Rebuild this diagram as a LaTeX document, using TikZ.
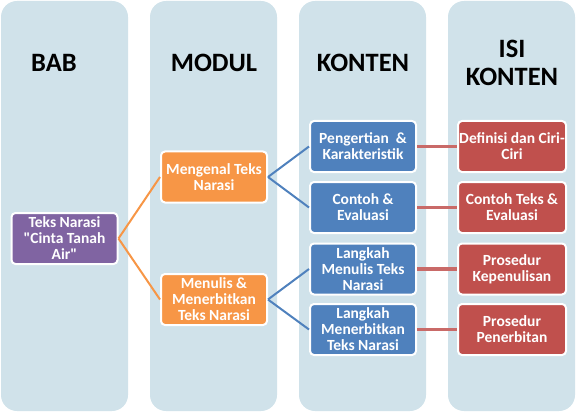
\documentclass[tikz,border=0pt]{standalone}
\usepackage{fontspec}
\setmainfont{Carlito}[Ligatures=TeXOff]
\definecolor{colbg}{HTML}{D0E2EA}
\definecolor{cpurple}{HTML}{8064A2}
\definecolor{corange}{HTML}{F79646}
\definecolor{cblue}{HTML}{4F81BD}
\definecolor{cred}{HTML}{C0504D}
\begin{document}
\begin{tikzpicture}[x=1pt,y=-1pt,
  colbox/.style={fill=colbg, rounded corners=16pt},
  header/.style={font=\fontsize{26.5}{28}\selectfont\bfseries, align=center, text=black, inner sep=0pt},
  box/.style={draw=white, line width=2pt, rounded corners=4pt, text=white,
    font=\fontsize{15.5}{16}\selectfont\bfseries, align=center, inner sep=0pt,
    minimum width=106pt, minimum height=51pt},
  oline/.style={draw=corange, line width=2pt},
  bline/.style={draw=cblue, line width=2pt},
  rline/.style={draw=cred!85!white, line width=3.5pt}
]
\useasboundingbox (0,0) rectangle (580,414);
\fill[colbox] (1,1) rectangle (128,411);
\fill[colbox] (150,1) rectangle (277,411);
\fill[colbox] (299,1) rectangle (426,411);
\fill[colbox] (448,1) rectangle (575,411);

\node[header] (hbab) at (54,63) {BAB};
\node[header] (hmodul) at (214,63) {MODUL};
\node[header] (hkonten) at (363,63) {KONTEN};
\node[header] (hisi) at (512,63) {ISI\\KONTEN};

\node[box, fill=cpurple] (bab) at (64.5,238.5) {Teks Narasi\\"Cinta Tanah\\Air"};
\node[box, fill=corange] (m1) at (214,177) {Mengenal Teks\\Narasi};
\node[box, fill=corange] (m2) at (214,299.5) {Menulis \&\\Menerbitkan\\Teks Narasi};

\node[box, fill=cblue] (k1) at (363,146.5) {Pengertian \ \&\\Karakteristik};
\node[box, fill=cblue] (k2) at (363,207.5) {Contoh \&\\Evaluasi};
\node[box, fill=cblue] (k3) at (363,269) {Langkah\\Menulis Teks\\Narasi};
\node[box, fill=cblue] (k4) at (363,329.5) {Langkah\\Menerbitkan\\Teks Narasi};

\node[box, fill=cred, minimum width=108pt] (i1) at (512,146.5) {Definisi dan Ciri-\\Ciri};
\node[box, fill=cred, minimum width=108pt] (i2) at (512,207.5) {Contoh Teks \&\\Evaluasi};
\node[box, fill=cred, minimum width=108pt] (i3) at (512,269) {Prosedur\\Kepenulisan};
\node[box, fill=cred, minimum width=108pt] (i4) at (512,329.5) {Prosedur\\Penerbitan};

\draw[oline] (bab.east) -- (m1.west);
\draw[oline] (bab.east) -- (m2.west);
\draw[bline] (m1.east) -- (k1.west);
\draw[bline] (m1.east) -- (k2.west);
\draw[bline] (m2.east) -- (k3.west);
\draw[bline] (m2.east) -- (k4.west);
\draw[rline] (k1.east) -- (i1.west);
\draw[rline] (k2.east) -- (i2.west);
\draw[rline] (k3.east) -- (i3.west);
\draw[rline] (k4.east) -- (i4.west);
\end{tikzpicture}
\end{document}
